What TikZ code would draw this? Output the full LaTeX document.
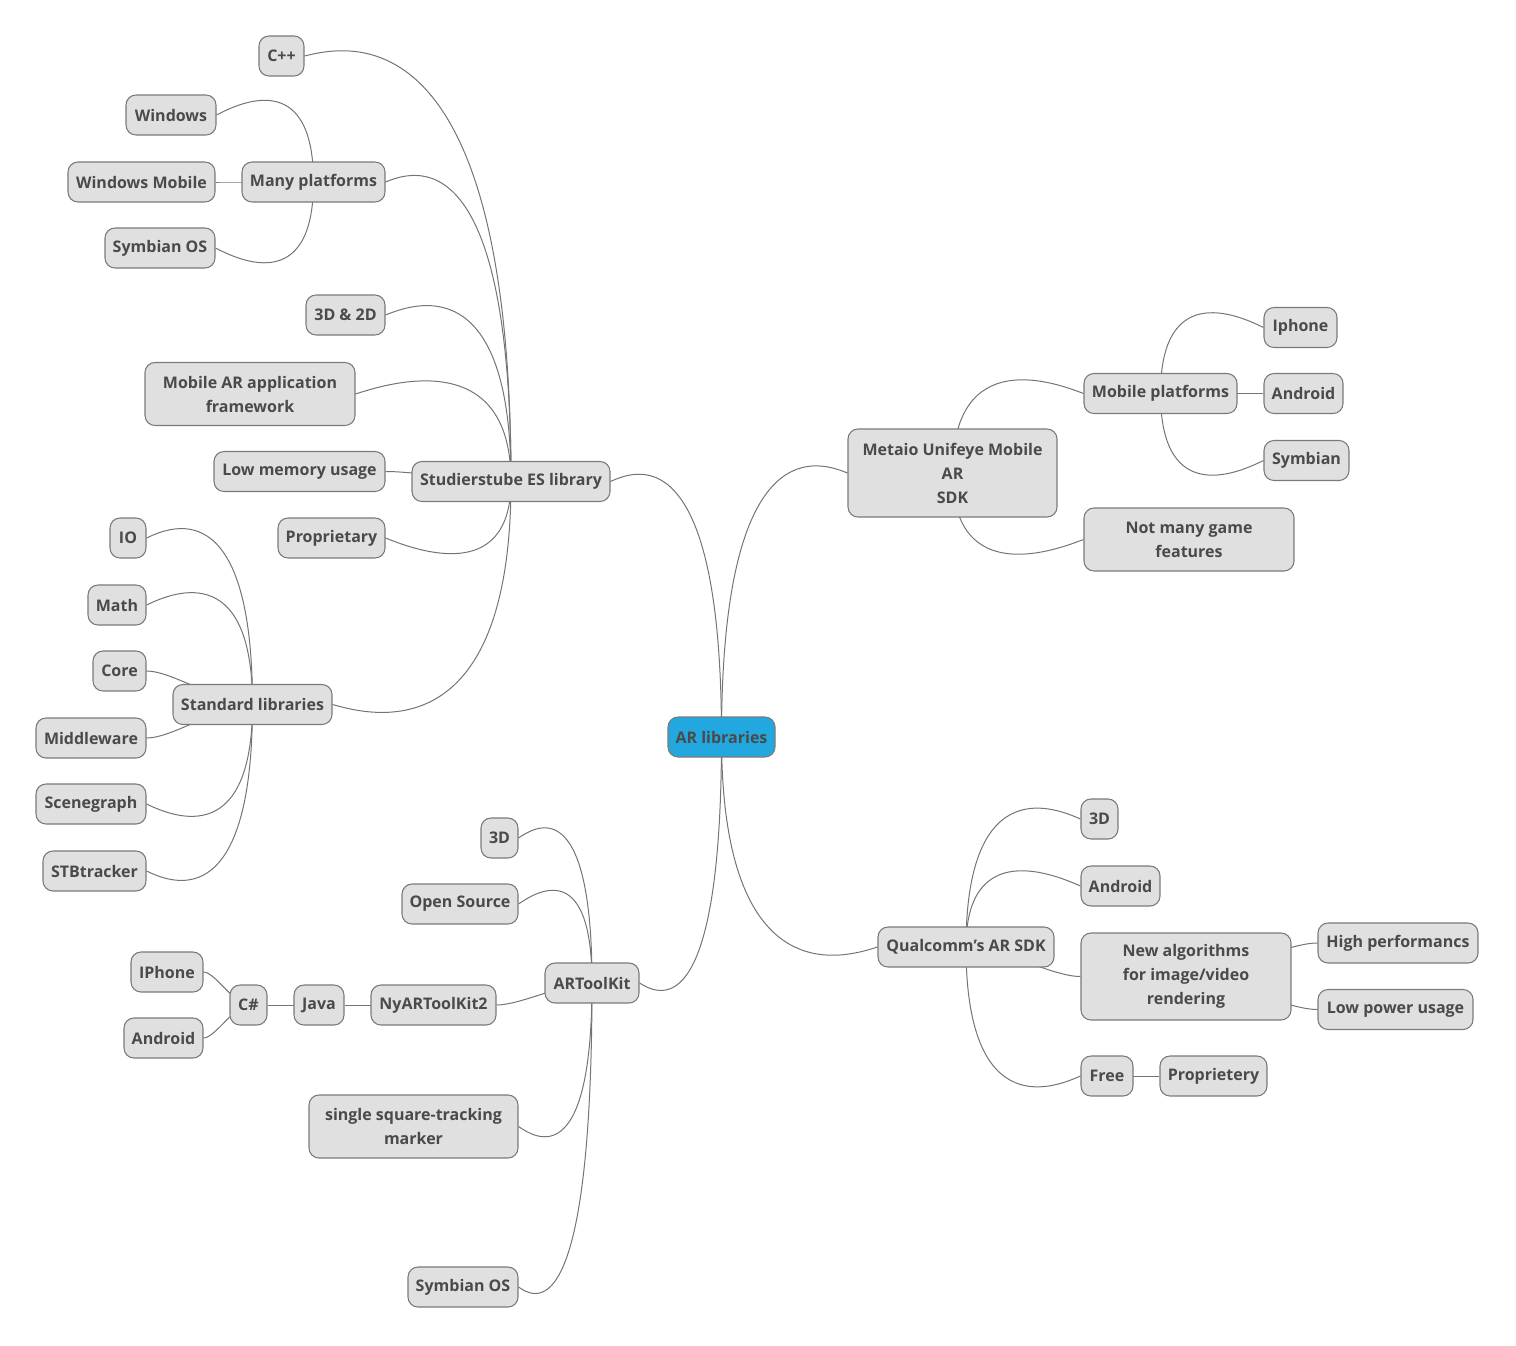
\documentclass[tikz,border=0pt]{standalone}
\usepackage{fontspec}
\setmainfont{Open Sans}
\usetikzlibrary{calc}
\definecolor{boxfill}{HTML}{E0E0E0}
\definecolor{boxdraw}{HTML}{7A7A7A}
\definecolor{txt}{HTML}{4A4A4A}
\definecolor{edgec}{HTML}{747474}
\definecolor{rootfill}{HTML}{22A8DE}
\pgfdeclarelayer{bg}
\pgfsetlayers{bg,main}
\tikzset{
  box/.style={draw=boxdraw, fill=boxfill, line width=0.8pt, rounded corners=7.5pt,
    text=txt, font=\fontsize{12}{18}\selectfont\bfseries, align=center,
    inner sep=0pt},
  rootbox/.style={box, fill=rootfill},
  edge/.style={draw=edgec, line width=0.75pt},
}
\newcommand\bx[7][box]{%
  \node[#1, minimum width=#5*0.75pt, minimum height=#6*0.75pt] (#2) at (#3,#4) {#7};}
\newcommand\conn[2]{%
  \draw[edge] let \p1=(#1.center), \p2=(#2),
    \n1={ifthenelse(abs(\y2-\y1)<33.75,1,0)},
    \n2={ifthenelse(\y2>\y1,1,-1)} in
    (\p1) .. controls ({\x1+\n1*0.3*(\x2-\x1)},{\n1*\y1+(1-\n1)*(\y2+\n2*37.5pt)})
    and ({\x2+(0.2+0.05*\n1)*(\x1-\x2)},{\y2+(1-\n1)*\n2*7.5pt}) .. (\p2);}
\begin{document}
\begin{tikzpicture}[x=0.75pt,y=-0.75pt]
\useasboundingbox (0,0) rectangle (1516,1345);
% root
\bx[rootbox]{root}{721.5}{737}{107}{40}{AR libraries}
% Studierstube branch
\bx{stu}{511}{481.5}{198}{40}{Studierstube ES library}
\bx{cpp}{281.5}{56}{45}{40}{C++}
\bx{many}{313.5}{182}{143}{40}{Many platforms}
\bx{win}{171}{115}{90}{40}{Windows}
\bx{winm}{141.5}{182}{147}{40}{Windows Mobile}
\bx{symos}{160}{248}{110}{40}{Symbian OS}
\bx{dd}{345.5}{315}{79}{40}{3D \& 2D}
\bx{mobar}{250}{394}{210}{63}{Mobile AR application\\framework}
\bx{lowmem}{299.5}{471.5}{171}{40}{Low memory usage}
\bx{prop}{331.5}{538}{107}{40}{Proprietary}
\bx{stdlib}{252.5}{704.5}{159}{40}{Standard libraries}
\bx{io}{128}{538}{36}{40}{IO}
\bx{math}{117}{605}{58}{40}{Math}
\bx{core}{119.5}{671}{53}{40}{Core}
\bx{mid}{91}{738}{110}{40}{Middleware}
\bx{scene}{91}{804}{110}{40}{Scenegraph}
\bx{stb}{94.5}{871}{103}{40}{STBtracker}
% Metaio branch
\bx{metaio}{952.5}{473}{209}{88}{Metaio Unifeye Mobile\\AR\\SDK}
\bx{mobpl}{1160.5}{393.5}{153}{40}{Mobile platforms}
\bx{iphone}{1300.5}{327.5}{73}{40}{Iphone}
\bx{andra}{1303.5}{393.5}{79}{40}{Android}
\bx{symb}{1306.5}{460.5}{85}{40}{Symbian}
\bx{notmany}{1189}{539.5}{210}{63}{Not many game\\features}
% Qualcomm branch
\bx{qual}{966}{947}{176}{40}{Qualcomm’s AR SDK}
\bx{qdd}{1099.5}{819}{37}{40}{3D}
\bx{qandr}{1120.5}{886}{79}{40}{Android}
\bx{newalg}{1186}{976.5}{210}{87}{New algorithms\\for image/video\\rendering}
\bx{highp}{1398}{943}{160}{40}{High performancs}
\bx{lowp}{1395.5}{1009.5}{155}{40}{Low power usage}
\bx{free}{1107}{1076}{52}{40}{Free}
\bx{proprie}{1213.5}{1076}{107}{40}{Proprietery}
% ARToolKit branch
\bx{artk}{592}{983}{94}{40}{ARToolKit}
\bx{add}{499.5}{838}{37}{40}{3D}
\bx{open}{460}{904}{116}{40}{Open Source}
\bx{nyar}{433.5}{1005}{125}{40}{NyARToolKit2}
\bx{java}{319}{1005}{50}{40}{Java}
\bx{csharp}{248.5}{1005}{37}{40}{C\#}
\bx{aiph}{167}{972}{72}{40}{IPhone}
\bx{aandr}{163.5}{1038}{79}{40}{Android}
\bx{single}{413.5}{1126.5}{209}{63}{single square-tracking\\marker}
\bx{asym}{463}{1287}{110}{40}{Symbian OS}
\begin{pgfonlayer}{bg}
\conn{root}{stu.east}
\conn{root}{metaio.west}
\conn{root}{qual.west}
\conn{root}{artk.east}
\conn{stu}{cpp.east}
\conn{stu}{many.east}
\conn{stu}{dd.east}
\conn{stu}{mobar.east}
\conn{stu}{lowmem.east}
\conn{stu}{prop.east}
\conn{stu}{stdlib.east}
\conn{many}{win.east}
\conn{many}{winm.east}
\conn{many}{symos.east}
\conn{stdlib}{io.east}
\conn{stdlib}{math.east}
\conn{stdlib}{core.east}
\conn{stdlib}{mid.east}
\conn{stdlib}{scene.east}
\conn{stdlib}{stb.east}
\conn{metaio}{mobpl.west}
\conn{metaio}{notmany.west}
\conn{mobpl}{iphone.west}
\conn{mobpl}{andra.west}
\conn{mobpl}{symb.west}
\conn{qual}{qdd.west}
\conn{qual}{qandr.west}
\conn{qual}{newalg.west}
\conn{qual}{free.west}
\conn{newalg}{highp.west}
\conn{newalg}{lowp.west}
\conn{free}{proprie.west}
\conn{artk}{add.east}
\conn{artk}{open.east}
\conn{artk}{nyar.east}
\conn{artk}{single.east}
\conn{artk}{asym.east}
\conn{nyar}{java.east}
\conn{java}{csharp.east}
\conn{csharp}{aiph.east}
\conn{csharp}{aandr.east}
\end{pgfonlayer}
\end{tikzpicture}
\end{document}
